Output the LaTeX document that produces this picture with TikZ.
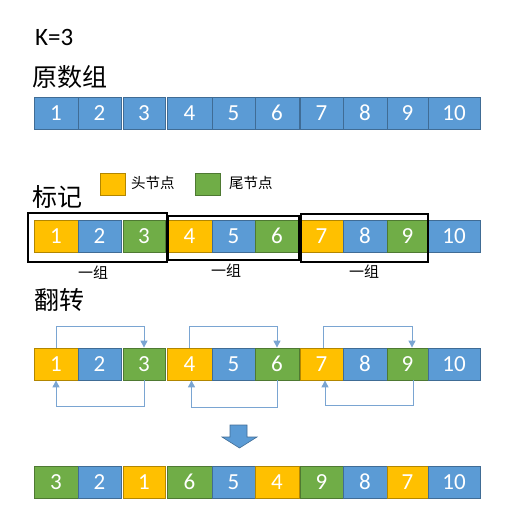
\documentclass[tikz,border=0pt]{standalone}
\usepackage{fontspec}
\setmainfont{Carlito}
\newfontfamily\cjk{Noto Sans CJK SC}
\usetikzlibrary{arrows.meta}
\definecolor{cellblue}{HTML}{5B9BD5}
\definecolor{headyellow}{HTML}{FFC000}
\definecolor{tailgreen}{HTML}{70AD47}
\definecolor{flowblue}{HTML}{7AA5D2}

\begin{document}
\begin{tikzpicture}[x=1pt, y=-1pt,
  cell/.style={line width=0.8pt, minimum height=32pt, inner sep=0pt, text=white, font=\fontsize{23}{25}\selectfont},
  title/.style={anchor=west, inner sep=0pt, font=\cjk\fontsize{25}{27}\selectfont},
  small/.style={inner sep=0pt, font=\cjk\fontsize{14.5}{16}\selectfont},
  groupbox/.style={draw, line width=1.1pt, inner sep=0pt},
  flow/.style={draw=flowblue, line width=1pt, -{Triangle[width=7pt, length=7pt]}},
  swatch/.style={line width=0.8pt, minimum width=25pt, minimum height=22pt, inner sep=0pt}]

  \useasboundingbox (0,0) rectangle (521,530);

  % Headings
  \node[anchor=west, inner sep=0pt, font=\fontsize{25}{27}\selectfont] (k) at (35, 37) {K=3};
  \node[title] (origtitle) at (32, 77) {原数组};
  \node[title] (marktitle) at (32, 197) {标记};
  \node[title] (fliptitle) at (34, 300) {翻转};

  % Legend
  \node[swatch, fill=headyellow, draw=headyellow!70!black] (headkey) at (112.5, 184) {};
  \node[small, anchor=west] (headtext) at (131, 183) {头节点};
  \node[swatch, fill=tailgreen, draw=tailgreen!70!black] (tailkey) at (207.5, 184) {};
  \node[small, anchor=west] (tailtext) at (229, 183) {尾节点};

  % Original array
  \foreach \i/\l/\r in {1/34/78, 2/78/121, 3/123/165, 4/167/212, 5/212/255,
                        6/255/299, 7/300/343, 8/343/387, 9/387/428, 10/428/480}
    \node[cell, fill=cellblue, draw=cellblue!70!black, minimum width={(\r-\l)*1pt}]
      (orig\i) at ({(\l+\r)/2}, 113) {\i};

  % Marked array and array before flipping
  \foreach \i/\l/\r/\c in {1/34/78/headyellow, 2/78/121/cellblue, 3/123/165/tailgreen,
                           4/167/212/headyellow, 5/212/255/cellblue, 6/255/299/tailgreen,
                           7/300/343/headyellow, 8/343/387/cellblue, 9/387/428/tailgreen,
                           10/428/480/cellblue} {
    \node[cell, fill=\c, draw=\c!70!black, minimum width={(\r-\l)*1pt}]
      (mark\i) at ({(\l+\r)/2}, 236) {\i};
    \node[cell, fill=\c, draw=\c!70!black, minimum width={(\r-\l)*1pt}]
      (flip\i) at ({(\l+\r)/2}, 364) {\i};
  }

  % Groups of K
  \node[groupbox, minimum width=139pt, minimum height=49pt] (grp1) at (97.5, 237.5) {};
  \node[groupbox, minimum width=131pt, minimum height=44pt] (grp2) at (233.5, 238) {};
  \node[groupbox, minimum width=127pt, minimum height=48pt] (grp3) at (364.5, 238) {};
  \node[small, font=\cjk\fontsize{15}{17}\selectfont] (grplbl1) at (93, 273) {一组};
  \node[small, font=\cjk\fontsize{15}{17}\selectfont] (grplbl2) at (226, 271) {一组};
  \node[small, font=\cjk\fontsize{15}{17}\selectfont] (grplbl3) at (364, 272) {一组};

  % Swaps of head and tail
  \draw[flow] (flip1.north) -- ++(0,-21) -| (flip3.north);
  \draw[flow] (flip3.south) -- ++(0,26) -| (flip1.south);
  \draw[flow] (flip4.north) -- ++(0,-21) -| (flip6.north);
  \draw[flow] (flip6.south) -- ++(0,27) -| ([xshift=2pt]flip4.south);
  \draw[flow] ([xshift=1.5pt]flip7.north) -- ++(0,-21) -| ([xshift=4.5pt]flip9.north);
  \draw[flow] ([xshift=5.5pt]flip9.south) -- ++(0,25) -| ([xshift=3.5pt]flip7.south);

  % Big down arrow
  \filldraw[fill=cellblue, draw=cellblue!70!black, line width=0.6pt]
    (230,425) -- (247,425) -- (247,437) -- (257,437) -- (239.5,448)
    -- (222,437) -- (230,437) -- cycle;

  % Result
  \foreach \i/\l/\r/\c/\t in {1/34/78/tailgreen/3, 2/78/121/cellblue/2, 3/123/165/headyellow/1,
                              4/167/212/tailgreen/6, 5/212/255/cellblue/5, 6/255/299/headyellow/4,
                              7/300/343/tailgreen/9, 8/343/387/cellblue/8, 9/387/428/headyellow/7,
                              10/428/480/cellblue/10}
    \node[cell, fill=\c, draw=\c!70!black, minimum width={(\r-\l)*1pt}]
      (res\i) at ({(\l+\r)/2}, 482) {\t};

\end{tikzpicture}
\end{document}
